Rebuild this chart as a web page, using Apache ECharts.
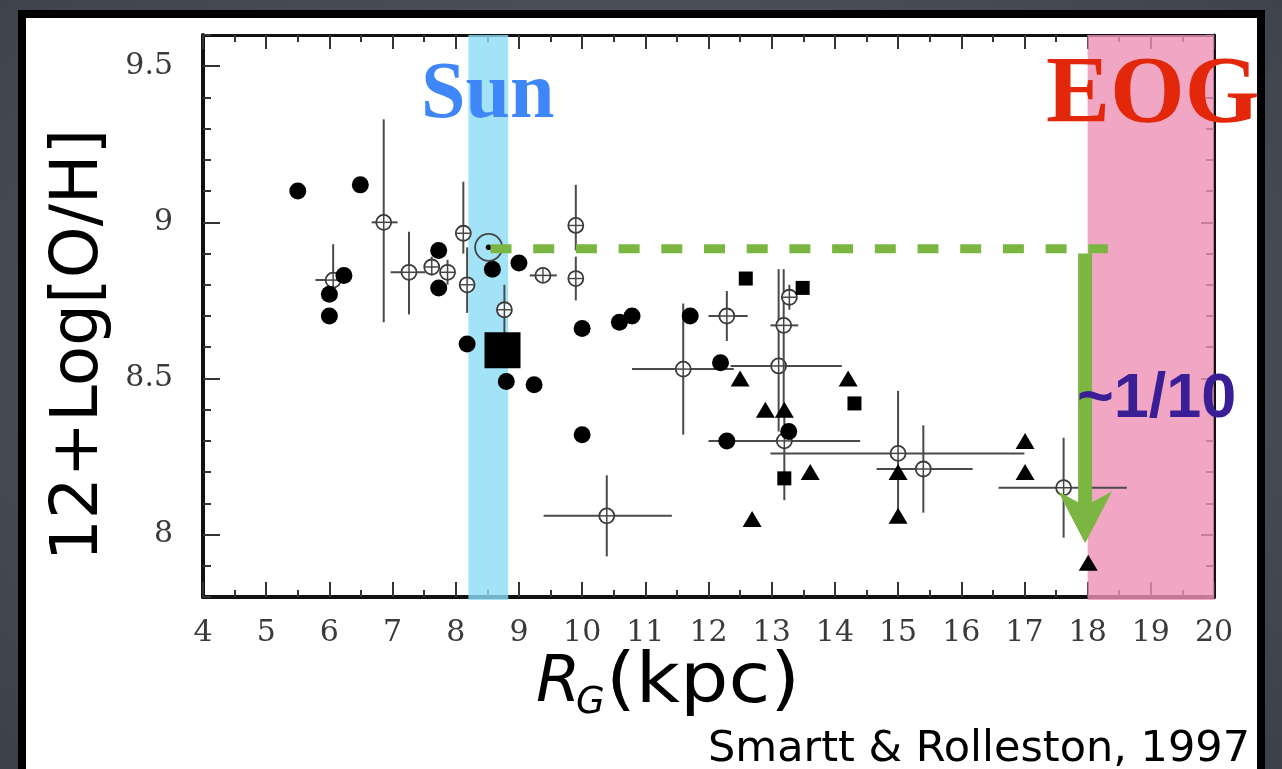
<!DOCTYPE html>
<html>
<head>
<meta charset="utf-8">
<title>Galactic oxygen abundance gradient</title>
<script src="https://cdn.jsdelivr.net/npm/echarts@6/dist/echarts.min.js"></script>
<style>
  html, body { margin: 0; padding: 0; width: 1282px; height: 769px; overflow: hidden; }
  body { background: radial-gradient(ellipse at 50% 45%, #575d69 0%, #494e59 55%, #3c404a 100%); }
  #panel { position: absolute; left: 18px; top: 10px; width: 1231px; height: 800px; background: #fff; border: 8px solid #000; }
  #chart { position: absolute; left: 0; top: 0; width: 1282px; height: 769px; }
</style>
</head>
<body>
<div id="panel"></div>
<div id="chart"></div>
<script>
// Axis ranges and labelled ticks
const xRange = [4, 20];
const yRange = [7.8, 9.6];
const yLabelValues = [8, 8.5, 9, 9.5];

// Shaded regions: solar circle and edge of the Galaxy (kpc)
const sunBand = [8.2, 8.83];
const eogBand = [18.0, 20.0];

// Filled circles [R_G, 12+log(O/H)]
const filledCircles = [
  [5.50, 9.10], [6.49, 9.12], [6.00, 8.77], [6.00, 8.70], [6.23, 8.83],
  [7.73, 8.91], [7.73, 8.79], [8.18, 8.61], [8.58, 8.85], [9.00, 8.87],
  [8.80, 8.49], [9.24, 8.48], [10.00, 8.66], [10.00, 8.32], [10.59, 8.68],
  [10.79, 8.70], [11.71, 8.70], [12.19, 8.55], [12.29, 8.30], [13.27, 8.33]
];

// Filled triangles
const filledTriangles = [
  [12.50, 8.50], [14.21, 8.50], [12.90, 8.40], [13.20, 8.40], [13.61, 8.20],
  [12.69, 8.05], [15.00, 8.20], [15.00, 8.06], [17.01, 8.30], [17.01, 8.20],
  [18.01, 7.91]
];

// Filled squares
const filledSquares = [[12.59, 8.82], [13.49, 8.79], [14.31, 8.42], [13.20, 8.18]];

// Large filled square
const bigSquare = [[8.74, 8.59]];

// Solar value
const sunPoint = [[8.52, 8.92]];

// Open circles with error bars: [x, y, xLow, xHigh, yLow, yHigh]
const openPoints = [
  [6.06, 8.815, 5.78, 6.28, 8.78, 8.93],
  [6.86, 9.00, 6.67, 7.08, 8.68, 9.33],
  [7.26, 8.84, 6.97, 7.52, 8.705, 8.97],
  [7.62, 8.857, 7.55, 7.70, 8.83, 8.89],
  [7.87, 8.84, 7.80, 7.95, 8.80, 8.88],
  [8.12, 8.965, 8.05, 8.19, 8.90, 9.13],
  [8.18, 8.80, 8.18, 8.18, 8.71, 8.92],
  [8.77, 8.72, 8.77, 8.77, 8.64, 8.80],
  [9.38, 8.83, 9.17, 9.60, 8.83, 8.83],
  [9.90, 8.99, 9.90, 9.90, 8.91, 9.12],
  [9.90, 8.82, 9.90, 9.90, 8.75, 8.89],
  [10.39, 8.06, 9.39, 11.42, 7.93, 8.19],
  [11.60, 8.53, 10.79, 12.40, 8.32, 8.74],
  [12.29, 8.70, 12.00, 12.62, 8.62, 8.78],
  [13.11, 8.54, 12.35, 14.11, 8.33, 8.85],
  [13.19, 8.67, 12.98, 13.42, 8.40, 8.85],
  [13.28, 8.76, 13.15, 13.40, 8.72, 8.80],
  [13.20, 8.30, 12.00, 14.40, 8.11, 8.40],
  [15.00, 8.26, 12.98, 17.00, 8.04, 8.46],
  [15.40, 8.21, 14.66, 16.18, 8.07, 8.35],
  [17.62, 8.15, 16.59, 18.62, 7.99, 8.31]
];

// Solar abundance level carried out to the edge of the Galaxy
const solarLevel = [[8.55, 8.915], [18.32, 8.915]];

// Drop in abundance: [x, yFrom, yTo]
const dropArrow = [[17.96, 8.90, 7.972]];

const bandColors = ['rgba(140, 220, 246, 0.8)', 'rgba(238, 145, 180, 0.8)'];
const green = '#7ab641';
const tickFont = { fontFamily: '"DejaVu Serif", serif', fontSize: 30, color: '#3a3a3a' };
const tickStyle = { color: '#333', width: 2 };
const markStyle = { color: '#000', opacity: 1 };

function renderBand(params, api) {
  const a = api.coord([api.value(0), yRange[1]]);
  const b = api.coord([api.value(1), yRange[0]]);
  return {
    type: 'rect',
    shape: { x: a[0], y: a[1], width: b[0] - a[0], height: b[1] - a[1] + 3 },
    style: { fill: bandColors[params.dataIndex] }
  };
}

function renderOpen(params, api) {
  const x = api.value(0), y = api.value(1);
  const c = api.coord([x, y]);
  const xl = api.coord([api.value(2), y]);
  const xh = api.coord([api.value(3), y]);
  const yl = api.coord([x, api.value(4)]);
  const yh = api.coord([x, api.value(5)]);
  const r = 7.5;
  const bar = { stroke: '#4a4a4a', lineWidth: 2 };
  const children = [];
  if (xh[0] - xl[0] > 1) {
    children.push({ type: 'line', shape: { x1: xl[0], y1: c[1], x2: xh[0], y2: c[1] }, style: bar });
  }
  if (yl[1] - yh[1] > 1) {
    children.push({ type: 'line', shape: { x1: c[0], y1: yl[1], x2: c[0], y2: yh[1] }, style: bar });
  }
  children.push({ type: 'circle', shape: { cx: c[0], cy: c[1], r: r }, style: { fill: 'rgba(255,255,255,0.85)', stroke: '#3a3a3a', lineWidth: 1.8 } });
  children.push({ type: 'line', shape: { x1: c[0] - r, y1: c[1], x2: c[0] + r, y2: c[1] }, style: { stroke: '#444', lineWidth: 1.4 } });
  children.push({ type: 'line', shape: { x1: c[0], y1: c[1] - r, x2: c[0], y2: c[1] + r }, style: { stroke: '#444', lineWidth: 1.4 } });
  return { type: 'group', children: children };
}

function renderSun(params, api) {
  const c = api.coord([api.value(0), api.value(1)]);
  return {
    type: 'group',
    children: [
      { type: 'circle', shape: { cx: c[0], cy: c[1], r: 13.5 }, style: { fill: 'none', stroke: '#444', lineWidth: 1.8 } },
      { type: 'circle', shape: { cx: c[0], cy: c[1], r: 2.8 }, style: { fill: '#000' } }
    ]
  };
}

function renderArrow(params, api) {
  const top = api.coord([api.value(0), api.value(1)]);
  const tip = api.coord([api.value(0), api.value(2)]);
  const headLen = 52, headHalf = 27, notch = 11, shaftHalf = 7;
  const base = tip[1] - headLen;
  return {
    type: 'polygon',
    shape: {
      points: [
        [top[0] - shaftHalf, top[1]],
        [top[0] + shaftHalf, top[1]],
        [tip[0] + shaftHalf, base + notch],
        [tip[0] + headHalf, base],
        [tip[0], tip[1]],
        [tip[0] - headHalf, base],
        [tip[0] - shaftHalf, base + notch]
      ]
    },
    style: { fill: green }
  };
}

function xAxisDef(position, showLabel, lineWidth, majorLen) {
  return {
    type: 'value', position: position, min: xRange[0], max: xRange[1], interval: 1,
    axisLine: { show: true, onZero: false, lineStyle: { color: '#111', width: lineWidth } },
    axisTick: { show: true, inside: true, length: majorLen, lineStyle: tickStyle },
    minorTick: { show: true, splitNumber: 2, length: 7, lineStyle: tickStyle },
    axisLabel: Object.assign({ show: showLabel, margin: 21 }, tickFont),
    splitLine: { show: false }, minorSplitLine: { show: false }
  };
}

function yMinorAxis(position, lineWidth) {
  return {
    type: 'value', position: position, min: yRange[0], max: yRange[1], interval: 0.1,
    axisLine: { show: true, onZero: false, lineStyle: { color: '#111', width: lineWidth } },
    axisTick: { show: true, inside: true, length: 8, lineStyle: tickStyle },
    axisLabel: { show: false },
    splitLine: { show: false }
  };
}

function yMajorAxis(position, showLabel, majorLen) {
  return {
    type: 'value', position: position, min: yRange[0], max: yRange[1],
    axisLine: { show: false },
    axisTick: { show: true, inside: true, length: majorLen, customValues: yLabelValues, lineStyle: tickStyle },
    axisLabel: Object.assign({ show: showLabel, margin: 30, customValues: yLabelValues }, tickFont),
    splitLine: { show: false }
  };
}

const chart = echarts.init(document.getElementById('chart'), null, { renderer: 'canvas' });

chart.setOption({
  backgroundColor: 'transparent',
  animation: false,
  grid: { left: 203, top: 35, width: 1011, height: 562, containLabel: false, outerBoundsMode: 'none' },
  xAxis: [
    xAxisDef('bottom', true, 4, 15),
    xAxisDef('top', false, 3, 14)
  ],
  yAxis: [
    yMinorAxis('left', 4),
    yMajorAxis('left', true, 17),
    yMinorAxis('right', 3),
    yMajorAxis('right', false, 13)
  ],
  series: [
    {
      name: 'bands', type: 'custom', z: 1, silent: true, clip: false,
      renderItem: renderBand, data: [sunBand, eogBand]
    },
    {
      name: 'open', type: 'custom', z: 2, silent: true,
      renderItem: renderOpen, data: openPoints
    },
    {
      name: 'circles', type: 'scatter', z: 3, silent: true,
      symbol: 'circle', symbolSize: 17, itemStyle: markStyle, data: filledCircles
    },
    {
      name: 'triangles', type: 'scatter', z: 3, silent: true,
      symbol: 'triangle', symbolSize: [19, 16], itemStyle: markStyle, data: filledTriangles
    },
    {
      name: 'squares', type: 'scatter', z: 3, silent: true,
      symbol: 'rect', symbolSize: 14, itemStyle: markStyle, data: filledSquares
    },
    {
      name: 'big square', type: 'scatter', z: 3, silent: true,
      symbol: 'rect', symbolSize: 36, itemStyle: markStyle, data: bigSquare
    },
    {
      name: 'sun', type: 'custom', z: 4, silent: true,
      renderItem: renderSun, data: sunPoint
    },
    {
      name: 'solar level', type: 'line', z: 5, silent: true, symbol: 'none',
      lineStyle: { color: green, width: 9, type: [21, 21.7], cap: 'butt', opacity: 1 },
      data: solarLevel
    },
    {
      name: 'drop', type: 'custom', z: 6, silent: true,
      renderItem: renderArrow, data: dropArrow
    }
  ],
  graphic: [
    {
      type: 'text', x: 80, y: 345, rotation: Math.PI / 2, z: 100,
      style: { text: '12+Log[O/H]', fontFamily: '"DejaVu Sans"', fontSize: 66, fill: '#000', align: 'center', verticalAlign: 'middle' }
    },
    {
      type: 'text', x: 536, y: 684, z: 100,
      style: { text: 'R', fontFamily: '"DejaVu Sans"', fontStyle: 'italic', fontSize: 64, fill: '#000', align: 'left', verticalAlign: 'middle' }
    },
    {
      type: 'text', x: 576, y: 703, z: 100,
      style: { text: 'G', fontFamily: '"DejaVu Sans"', fontStyle: 'italic', fontSize: 37, fill: '#000', align: 'left', verticalAlign: 'middle' }
    },
    {
      type: 'text', x: 606, y: 684, z: 100, scaleX: 1.09,
      style: { text: '(kpc)', fontFamily: '"DejaVu Sans"', fontSize: 70, fill: '#000', align: 'left', verticalAlign: 'middle' }
    },
    {
      type: 'text', x: 1250, y: 750, z: 100,
      style: { text: 'Smartt & Rolleston, 1997', fontFamily: '"DejaVu Sans"', fontSize: 43, fill: '#000', align: 'right', verticalAlign: 'middle' }
    },
    {
      type: 'text', x: 421, y: 96, z: 100,
      style: { text: 'Sun', fontFamily: '"Liberation Serif"', fontWeight: 'bold', fontSize: 80, fill: '#3f87f6', align: 'left', verticalAlign: 'middle' }
    },
    {
      type: 'text', x: 1046, y: 97, z: 100,
      style: { text: 'EOG', fontFamily: '"Liberation Serif"', fontWeight: 'bold', fontSize: 96, fill: '#e3270b', align: 'left', verticalAlign: 'middle' }
    },
    {
      type: 'text', x: 1077, y: 400, z: 100,
      style: { text: '~1/10', fontFamily: '"Liberation Sans"', fontWeight: 'bold', fontSize: 63, fill: '#3a1e96', align: 'left', verticalAlign: 'middle' }
    }
  ]
});
</script>
</body>
</html>
